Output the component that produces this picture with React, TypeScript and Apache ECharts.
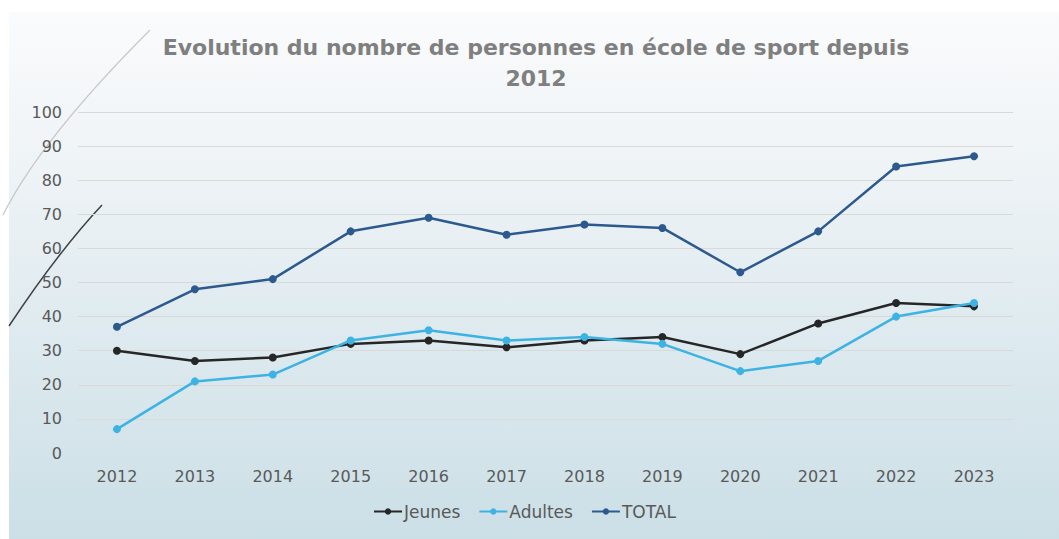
import React, { useEffect, useRef } from "react";
import * as echarts from "echarts";

const years = ["2012", "2013", "2014", "2015", "2016", "2017", "2018", "2019", "2020", "2021", "2022", "2023"];
const jeunes = [30, 27, 28, 32, 33, 31, 33, 34, 29, 38, 44, 43];
const adultes = [7, 21, 23, 33, 36, 33, 34, 32, 24, 27, 40, 44];
const total = [37, 48, 51, 65, 69, 64, 67, 66, 53, 65, 84, 87];

const FONT = "'DejaVu Sans', sans-serif";

export default function App() {
  const ref = useRef<HTMLDivElement>(null);
  useEffect(() => {
    if (!ref.current) return;
    const chart = echarts.init(ref.current, null, { renderer: "svg" });
    const mk = (name: string, data: number[], color: string) => ({
      name,
      type: "line",
      data,
      symbol: "circle",
      symbolSize: 8,
      lineStyle: { color, width: 2.5 },
      itemStyle: { color },
      z: name === "Jeunes" ? 3 : name === "Adultes" ? 4 : 2,
    });
    const gridColors = ["rgba(0,0,0,0)"];
    for (let i = 0; i < 10; i++) gridColors.push("#d9d9d9");
    chart.setOption({
      animation: false,
      title: {
        text: "Evolution du nombre de personnes en école de sport depuis\n2012",
        left: 531,
        textAlign: "center",
        top: 27,
        textStyle: { fontFamily: FONT, fontSize: 22, fontWeight: "bold", color: "#7f7f7f", lineHeight: 31 },
      },
      grid: { left: 78, right: 46, top: 112, bottom: 86 },
      xAxis: {
        type: "category",
        data: years,
        boundaryGap: true,
        axisLine: { show: false },
        axisTick: { show: false },
        axisLabel: { color: "#595959", fontFamily: FONT, fontSize: 16, margin: 15 },
      },
      yAxis: {
        type: "value",
        min: 0,
        max: 100,
        interval: 10,
        axisLine: { show: false },
        axisTick: { show: false },
        axisLabel: { color: "#595959", fontFamily: FONT, fontSize: 16, margin: 16 },
        splitLine: { lineStyle: { color: gridColors, width: 1 } },
      },
      legend: {
        data: ["Jeunes", "Adultes", "TOTAL"],
        top: 498,
        left: 368,
        itemWidth: 28,
        itemHeight: 8,
        itemGap: 18,
        textStyle: { color: "#595959", fontFamily: FONT, fontSize: 17, padding: [0, 0, 0, -3] },
      },
      graphic: [
        {
          type: "bezierCurve",
          shape: { x1: 150, y1: 30, cpx1: 41, cpy1: 139, x2: 3, y2: 215 },
          style: { stroke: "#c8c8c8", lineWidth: 1.2, fill: null },
          silent: true,
        },
        {
          type: "bezierCurve",
          shape: { x1: 102, y1: 205, cpx1: 58, cpy1: 252, x2: 9, y2: 326 },
          style: { stroke: "#404040", lineWidth: 1.5, fill: null },
          silent: true,
        },
      ],
      series: [mk("Jeunes", jeunes, "#262626"), mk("Adultes", adultes, "#3db3e3"), mk("TOTAL", total, "#2c5a8e")],
    });
    return () => chart.dispose();
  }, []);
  return (
    <div style={{ position: "fixed", left: 0, top: 0, width: 1059, height: 539, background: "#ffffff" }}>
      <div
        style={{
          position: "absolute",
          left: 9,
          top: 12,
          width: 1050,
          height: 527,
          background: "linear-gradient(to bottom, #fafbfc 0%, #eef3f6 30%, #dce9ee 65%, #cbdfe6 100%)",
        }}
      />
      <div ref={ref} style={{ position: "absolute", left: 0, top: 0, width: 1059, height: 539 }} />
    </div>
  );
}
